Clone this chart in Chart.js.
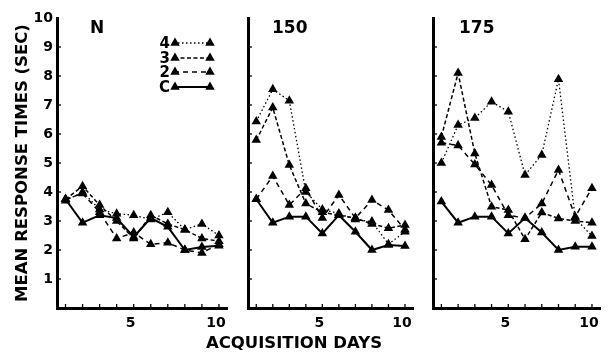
<!DOCTYPE html>
<html><head><meta charset="utf-8">
<script src="https://cdn.jsdelivr.net/npm/chart.js@4/dist/chart.umd.min.js"></script>
<style>
html,body{margin:0;padding:0;background:#fff;}
#wrap{position:relative;width:609px;height:354px;overflow:hidden;background:#fff;}
canvas{position:absolute;top:0;}
#xt{position:absolute;left:0;top:333px;width:588px;text-align:center;font:bold 16.5px "DejaVu Sans";line-height:19px;color:#000;}
</style></head><body>
<div id="wrap">
<canvas id="c1"></canvas><canvas id="c2"></canvas><canvas id="c3"></canvas>
<div id="xt">ACQUISITION DAYS</div>
</div>
<script>
// ---- data ----
const days = [1,2,3,4,5,6,7,8,9,10];
const yTickValues = [0,1,2,3,4,5,6,7,8,9,10];
const xLabelValues = [5,10];
const seriesNames = ['4','3','2','C'];
const panelNames = ['N','150','175'];
const yTitle = 'MEAN RESPONSE TIMES (SEC)';

// Panel N
const nS4 = [3.7, 4.0, 3.4, 3.25, 3.2, 3.05, 3.3, 2.7, 2.9, 2.5];
const nS3 = [3.75, 4.2, 3.55, 3.0, 2.4, 3.2, 2.9, 2.7, 2.4, 2.3];
const nS2 = [3.75, 3.95, 3.3, 2.4, 2.6, 2.2, 2.25, 2.0, 1.9, 2.2];
const nC  = [3.75, 2.94, 3.2, 3.1, 2.45, 3.1, 2.8, 2.0, 2.1, 2.15];
// Panel 150
const fS4 = [6.43, 7.54, 7.15, 4.0, 3.4, 3.26, 3.05, 2.98, 2.2, 2.63];
const fS3 = [5.79, 6.91, 4.93, 3.6, 3.3, 3.2, 3.1, 2.9, 2.75, 2.86];
const fS2 = [3.75, 4.55, 3.55, 4.13, 3.1, 3.9, 3.1, 3.72, 3.38, 2.7];
const fC  = [3.75, 2.94, 3.15, 3.15, 2.57, 3.2, 2.63, 2.0, 2.17, 2.14];
// Panel 175
const sS4 = [5.0, 6.31, 6.55, 7.11, 6.77, 4.59, 5.28, 7.89, 3.1, 2.48];
const sS3 = [5.9, 8.1, 5.33, 3.49, 3.38, 2.37, 3.29, 3.09, 3.0, 2.94];
const sS2 = [5.7, 5.6, 4.95, 4.24, 3.2, 3.1, 3.6, 4.76, 3.15, 4.13];
const sC  = [3.67, 2.94, 3.15, 3.15, 2.57, 3.1, 2.6, 2.0, 2.11, 2.11];

const panelData = [[nS4,nS3,nS2,nC],[fS4,fS3,fS2,fC],[sS4,sS3,sS2,sC]];

// ---- styles ----
const FONT = '"DejaVu Sans", sans-serif';
const dashes = [[1.5,2.5],[4,2.5],[5,4],[]];
const widths = [1.3,1.5,1.5,2];
const geo = [
  {left:0,   width:236, axisW:57, padR:6, titleDX:33},
  {left:236, width:186, axisW:12, padR:5, titleDX:24},
  {left:422, width:187, axisW:11, padR:6, titleDX:26}
];

const innerTicks = {
  id:'innerTicks',
  afterDraw(chart){
    const ctx = chart.ctx, x = chart.scales.x, y = chart.scales.y, a = chart.chartArea;
    ctx.save(); ctx.strokeStyle='#000'; ctx.lineWidth=1.3;
    days.forEach(d=>{const px=x.getPixelForValue(d); ctx.beginPath(); ctx.moveTo(px,a.bottom); ctx.lineTo(px,a.bottom-4); ctx.stroke();});
    yTickValues.filter(v=>v>0&&v<10).forEach(v=>{const py=y.getPixelForValue(v); ctx.beginPath(); ctx.moveTo(a.left,py); ctx.lineTo(a.left+4,py); ctx.stroke();});
    ctx.restore();
  }
};
const panelTitle = {
  id:'panelTitle',
  afterDraw(chart, args, opts){
    const ctx=chart.ctx, a=chart.chartArea;
    ctx.save(); ctx.fillStyle='#000'; ctx.font='bold 17px '+FONT; ctx.textAlign='left'; ctx.textBaseline='middle';
    ctx.fillText(opts.text, a.left+opts.dx, 29);
    ctx.restore();
  }
};
function tri(ctx,x,y,r){
  ctx.beginPath();
  ctx.moveTo(x, y-r);
  ctx.lineTo(x+r*0.866, y+r*0.5);
  ctx.lineTo(x-r*0.866, y+r*0.5);
  ctx.closePath(); ctx.fill();
}
const legendPlugin = {
  id:'legendIn',
  afterDraw(chart, args, opts){
    if(!opts.show) return;
    const ctx=chart.ctx;
    const rows=[43,58,72,87];
    ctx.save(); ctx.fillStyle='#000'; ctx.strokeStyle='#000';
    chart.data.datasets.forEach((ds,i)=>{
      const yy=rows[i];
      ctx.font='bold 15px '+FONT; ctx.textAlign='right'; ctx.textBaseline='middle';
      ctx.fillText(ds.label, 170, yy+1);
      ctx.setLineDash(ds.borderDash); ctx.lineWidth=ds.borderWidth;
      ctx.beginPath(); ctx.moveTo(174,yy); ctx.lineTo(210,yy); ctx.stroke();
      ctx.setLineDash([]);
      tri(ctx,175,yy,5.5); tri(ctx,210,yy,5.5);
    });
    ctx.restore();
  }
};

panelData.forEach((series, p)=>{
  const g = geo[p];
  const cv = document.getElementById('c'+(p+1));
  cv.style.left = g.left+'px';
  cv.width = g.width; cv.height = 354;
  new Chart(cv, {
    type:'line',
    data:{
      datasets: series.map((vals,i)=>({
        label: seriesNames[i],
        data: days.map((d,k)=>({x:d, y:vals[k]})),
        borderColor:'#000', backgroundColor:'#000',
        borderWidth: widths[i], borderDash: dashes[i],
        pointStyle:'triangle', pointRadius:5.5, pointBackgroundColor:'#000', pointBorderColor:'#000', pointBorderWidth:0,
        tension:0, clip:false
      }))
    },
    options:{
      responsive:false, animation:false, devicePixelRatio:1,
      layout:{padding:{top:18, right:g.padR, left:0, bottom:0}},
      plugins:{
        legend:{display:false}, tooltip:{enabled:false},
        panelTitle:{text:panelNames[p], dx:g.titleDX},
        legendIn:{show:p===0}
      },
      scales:{
        x:{
          type:'linear', min:0.5, max:10.5,
          afterBuildTicks: s=>{ s.ticks = days.map(v=>({value:v})); },
          afterFit: s=>{ s.height = 46; },
          grid:{display:false, drawTicks:false},
          border:{display:true, color:'#000', width:3},
          ticks:{autoSkip:false, maxRotation:0, padding:7, color:'#000', labelOffset:-3,
                 font:{family:FONT, size:14, weight:'bold'},
                 callback: v => xLabelValues.includes(v) ? String(v) : ''}
        },
        y:{
          min:0, max:10,
          afterBuildTicks: s=>{ s.ticks = yTickValues.map(v=>({value:v})); },
          afterFit: s=>{ s.width = g.axisW; },
          grid:{display:false, drawTicks:false},
          border:{display:true, color:'#000', width:3},
          ticks:{display:p===0, padding:4, color:'#000',
                 font:{family:FONT, size:14, weight:'bold'},
                 callback: v => v===0 ? '' : String(v)},
          title:{display:p===0, text:yTitle, color:'#000', padding:{top:13,bottom:0},
                 font:{family:FONT, size:16.5, weight:'bold'}}
        }
      }
    },
    plugins:[innerTicks, panelTitle, legendPlugin]
  });
});
</script>
</body></html>
